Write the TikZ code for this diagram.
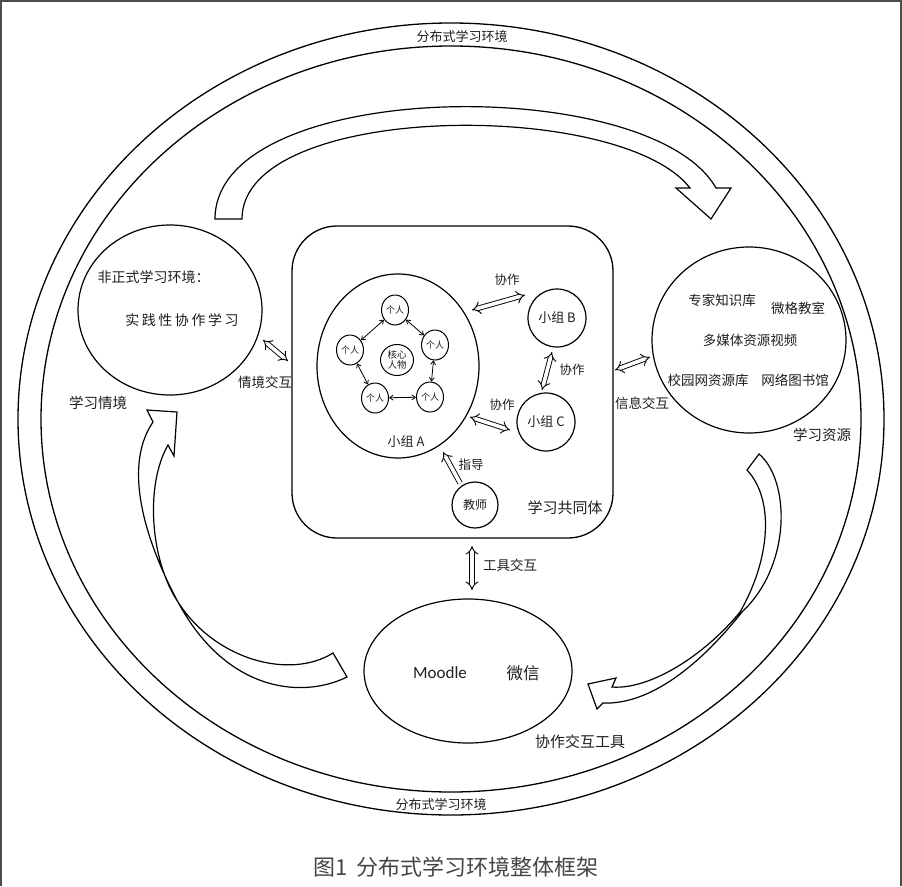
\documentclass[tikz,border=0pt]{standalone}
\usepackage{fontspec}
\setmainfont{Noto Sans CJK SC}
\newfontfamily\lat{Carlito}
\usetikzlibrary{arrows.meta,shapes.geometric}
\definecolor{ink}{HTML}{1E1E1E}
\definecolor{capgray}{HTML}{454545}
\begin{document}
\begin{tikzpicture}[x=1pt,y=-1pt,
  every node/.style={text=ink, inner sep=0pt},
  line width=1.2pt,
  txt/.style={font=\fontsize{#1}{#1}\selectfont},
  ell/.style={draw, ellipse, inner sep=0pt, line width=1.2pt},
  ring/.style={line width=1.3pt},
  bigarrow/.style={draw, fill=white, line width=1.2pt, line join=miter},
  hollow/.style={double=white, double distance=3.6pt, line width=0.9pt, {Implies[scale=1.25]}-{Implies[scale=1.25]}},
  hollowone/.style={double=white, double distance=3.6pt, line width=0.9pt, -{Implies[scale=1.25]}},
  link/.style={line width=0.8pt, {Straight Barb[length=3.5pt,width=5pt]}-{Straight Barb[length=3.5pt,width=5pt]}},
  pers/.style={draw, ellipse, line width=1pt, minimum width=27pt, minimum height=30pt, font=\fontsize{9}{9}\selectfont},
  grp/.style={draw, circle, line width=1.2pt, minimum size=58pt, font=\fontsize{13}{13}\selectfont},
]
\useasboundingbox (0,0) rectangle (902,886);
% frame
\draw[gray!60!black, line width=2pt] (1,886) -- (1,1) -- (901,1) -- (901,886);

% outer rings
\draw[ring] (451,419) ellipse [x radius=433, y radius=396];
\draw[ring] (451,419) ellipse [x radius=410, y radius=373];
\node[txt=13] (ringtop) at (462,37) {分布式学习环境};
\node[txt=13] (ringbot) at (441,805) {分布式学习环境};

% big curved arrows
\draw[bigarrow] (215,219) .. controls (215,78) and (650,72) .. (716,188) -- (731,188) -- (711,219) -- (676,188) -- (690,188) .. controls (620,98) and (242,102) .. (242,219) -- cycle;
\draw[bigarrow] (747,470) -- (759,454) .. controls (790,480) and (792,565) .. (742,612) .. controls (700,665) and (650,705) .. (603,703) -- (597,709) -- (588,684) -- (616,678) -- (612,687) .. controls (650,690) and (705,655) .. (740,612) .. controls (770,560) and (775,500) .. (747,470) -- cycle;
\draw[bigarrow] (347,677) .. controls (300,700) and (225,690) .. (178,602) .. controls (150,550) and (120,470) .. (153,422) -- (147,410) -- (177,412) -- (174,456) -- (168,445) .. controls (145,485) and (150,560) .. (178,602) .. controls (215,660) and (290,680) .. (333,653) -- cycle;

% informal learning ellipse
\node[ell, minimum width=184pt, minimum height=170pt] (inf) at (170,310) {};
\node[txt=14, anchor=west] (inft) at (97,277) {非正式学习环境：};
\node[txt=14] (prac) at (182,320) {\addfontfeature{LetterSpace=18}实践性协作学习};
\node[txt=14.5] (qj) at (98,403) {学习情境};
\node[txt=13.5] (qjjh) at (265,382) {情境交互};

% community box
\node[draw, rounded corners=45pt, minimum width=321pt, minimum height=312pt, line width=1.3pt] (box) at (452.5,382) {};
\node[txt=15] (comm) at (565,508) {学习共同体};

% group A
\node[ell, minimum width=162pt, minimum height=184pt] (ga) at (398,366) {};
\node[txt=13] (gal) at (406,442) {小组 A};
\node[pers] (p1) at (395,310) {个人};
\node[pers] (p2) at (435,345) {个人};
\node[pers] (p3) at (430,397) {个人};
\node[pers] (p4) at (375,398) {个人};
\node[pers] (p5) at (350,350) {个人};
\node[pers, minimum width=33pt, minimum height=31pt, align=center, font=\fontsize{9.5}{10}\selectfont] (core) at (397,360) {核心\\人物};
\draw[link] (p1) -- (p2);
\draw[link] (p2) -- (p3);
\draw[link] (p3) -- (p4);
\draw[link] (p4) -- (p5);
\draw[link] (p5) -- (p1);

% groups B, C, teacher
\node[grp] (gb) at (557,318) {小组 B};
\node[grp] (gc) at (546,422) {小组 C};
\node[grp, minimum size=46pt, font=\fontsize{12}{12}\selectfont] (tch) at (475,505) {教师};
\node[txt=12.5] (xz1) at (507,280) {协作};
\node[txt=12.5] (xz2) at (572,370) {协作};
\node[txt=12.5] (xz3) at (502,405) {协作};
\node[txt=12.5] (zd) at (471,465) {指导};

\coordinate (ab1) at (472,310); \coordinate (ab2) at (525,295);
\coordinate (bc1) at (552,352); \coordinate (bc2) at (542,390);
\coordinate (ac1) at (470,417); \coordinate (ac2) at (510,430);
\coordinate (ta1) at (460,483); \coordinate (ta2) at (443,452);
\draw[hollow] (ab1) -- (ab2);
\draw[hollow] (bc1) -- (bc2);
\draw[hollow] (ac1) -- (ac2);
\draw[hollowone] (ta1) -- (ta2);

% situational interaction
\coordinate (qi1) at (263,340); \coordinate (qi2) at (288,361);
\draw[hollow] (qi1) -- (qi2);

% resources ellipse
\node[ell, minimum width=194pt, minimum height=186pt] (res) at (749,340) {};
\node[txt=13.5] (r1) at (722,300) {专家知识库};
\node[txt=13.5] (r2) at (798,308) {微格教室};
\node[txt=13.5] (r3) at (750,340) {多媒体资源视频};
\node[txt=13.5] (r4) at (708,380) {校园网资源库};
\node[txt=13.5] (r5) at (795,380) {网络图书馆};
\node[txt=14.5] (rl) at (822,435) {学习资源};
\node[txt=13.5] (xx) at (642,403) {信息交互};
\coordinate (xi1) at (615,370); \coordinate (xi2) at (650,357);
\draw[hollow] (xi1) -- (xi2);

% tools ellipse
\node[ell, minimum width=208pt, minimum height=144pt] (tool) at (468,671) {};
\node[font=\lat\fontsize{17}{17}\selectfont] (moodle) at (440,673) {Moodle};
\node[txt=16.5] (wx) at (523,673) {微信};
\node[txt=15] (tl) at (580,742) {协作交互工具};
\node[txt=13.5] (gj) at (510,565) {工具交互};
\coordinate (gj1) at (472,546); \coordinate (gj2) at (472,590);
\draw[hollow] (gj1) -- (gj2);

% caption
\node[txt=22, text=capgray] (cap) at (456,867) {图1\hspace{8pt}分布式学习环境整体框架};
\end{tikzpicture}
\end{document}
